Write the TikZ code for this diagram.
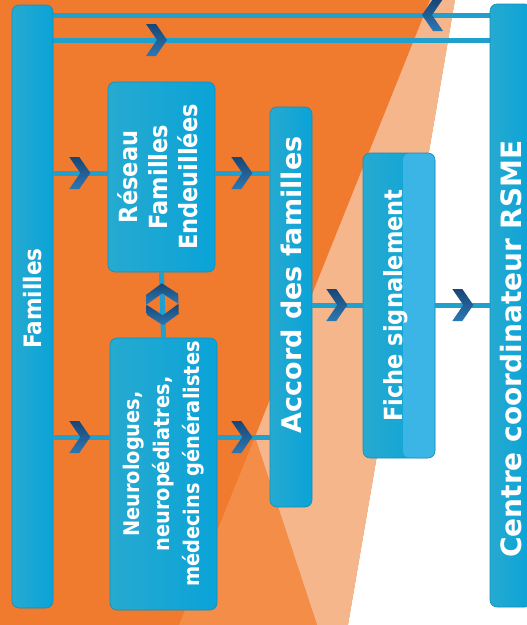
\documentclass[tikz,border=0pt]{standalone}
\usepackage{fontspec}
\usepackage{graphicx}
\setmainfont{DejaVu Sans}
\newfontfamily\boxfont{DejaVu Sans}
\newfontfamily\narrowfont{DejaVu Sans Condensed}
\usetikzlibrary{decorations.markings}

\definecolor{orangedark}{RGB}{240,122,45}
\definecolor{orangemid}{RGB}{243,141,72}
\definecolor{peach}{RGB}{246,182,140}
\definecolor{cyanL}{RGB}{38,170,208}
\definecolor{cyanM}{RGB}{58,188,226}
\definecolor{cyanR}{RGB}{10,163,216}
\definecolor{cyanEdge}{RGB}{22,140,184}
\definecolor{cyanLine}{RGB}{33,160,205}
\definecolor{ficheLight}{RGB}{58,181,230}
\definecolor{chevdark}{RGB}{24,70,118}
\definecolor{chevlight}{RGB}{44,120,178}

\tikzset{
  bar/.style={rounded corners=7pt, left color=cyanL, middle color=cyanM, right color=cyanR,
    draw=cyanEdge, line width=0.6pt, inner sep=0pt, text=white, align=center},
  conn/.style={cyanLine, line width=5pt},
  chev at/.style={postaction={decorate, decoration={markings,
    mark=at position #1 with {\shade[top color=chevdark, bottom color=chevlight]
      (0,0) -- (-11,16) -- (-21,16) -- (-10,0) -- (-21,-16) -- (-11,-16) -- cycle;}}}},
  chev back at/.style={postaction={decorate, decoration={markings,
    mark=at position #1 with {\shade[top color=chevdark, bottom color=chevlight]
      (0,0) -- (11,16) -- (21,16) -- (10,0) -- (21,-16) -- (11,-16) -- cycle;}}}},
}

\newcommand{\boxtext}[2]{\fontsize{#1}{30}\selectfont\boxfont\bfseries #2}
\newcommand{\narrowtext}[2]{\fontsize{#1}{30}\selectfont\narrowfont\bfseries #2}

\begin{document}
\begin{tikzpicture}[x=1pt,y=-1pt]
  % background and light beams
  \useasboundingbox (0,0) rectangle (527,625);
  \fill[orangedark] (0,0) rectangle (527,625);
  \fill[white] (455,0) -- (527,0) -- (527,625) -- (348,625) -- cycle;
  \fill[peach] (430,0) -- (455,0) -- (348,625) -- (317,625) -- (255,437) -- cycle;
  \fill[orangemid] (255,437) -- (317,625) -- (179,625) -- cycle;

  % rows of the connectors
  \coordinate (toprow) at (0,15);
  \coordinate (backrow) at (0,40);
  \coordinate (uprow) at (0,173);
  \coordinate (midrow) at (0,305);
  \coordinate (lowrow) at (0,437);

  % connectors first, boxes on top
  \coordinate (famE) at (53,0);
  \coordinate (centreW) at (490,0);
  \draw[conn, chev at=68pt] (centreW |- toprow) -- (famE |- toprow);
  \draw[conn, chev at=114pt] (famE |- backrow) -- (centreW |- backrow);

  \node[bar, minimum width=41pt, minimum height=603pt] (familles) at (32.5,306.5)
    {\rotatebox{90}{\narrowtext{24}{\hspace{16pt}Familles}}};
  \node[bar, minimum width=42pt, minimum height=603pt] (centre) at (511,305.5)
    {\rotatebox{90}{\boxtext{28}{Centre coordinateur RSME\hspace{87pt}}}};
  \node[bar, minimum width=107pt, minimum height=190pt] (reseau) at (161.5,177)
    {\rotatebox{90}{\narrowtext{25}{\begin{tabular}{@{}c@{}}Réseau\\Familles\\Endeuillées\end{tabular}}}};
  \node[bar, minimum width=107pt, minimum height=272pt] (neuro) at (163.5,474)
    {\rotatebox{90}{\narrowtext{21.5}{\hspace{20pt}\begin{tabular}{@{}c@{}}Neurologues,\\neuropédiatres,\\médecins généralistes\end{tabular}}}};
  \node[bar, minimum width=42pt, minimum height=400pt] (accord) at (291,307)
    {\rotatebox{90}{\boxtext{27}{\hspace{44pt}Accord des familles}}};
  \node[bar, minimum width=72pt, minimum height=305pt,
    path picture={\fill[ficheLight] ([xshift=-32pt]path picture bounding box.north east)
      rectangle (path picture bounding box.south east);}] (fiche) at (399,305.5)
    {\rotatebox{90}{\raisebox{11pt}{\narrowtext{25}{Fiche signalement}}}};

  \draw[conn, chev at=37pt] (familles.east |- uprow) -- (reseau.west |- uprow);
  \draw[conn, chev at=37pt] (familles.east |- lowrow) -- (neuro.west |- lowrow);
  \draw[conn, chev at=37pt] (reseau.east |- uprow) -- (accord.west |- uprow);
  \draw[conn, chev at=35pt] (neuro.east |- lowrow) -- (accord.west |- lowrow);
  \draw[conn, chev at=35pt] (accord.east |- midrow) -- (fiche.west |- midrow);
  \draw[conn, chev at=38pt] (fiche.east |- midrow) -- (centre.west |- midrow);
  \draw[conn, chev at=53pt, chev back at=11pt] (reseau.south) -- (neuro.north);
\end{tikzpicture}
\end{document}
